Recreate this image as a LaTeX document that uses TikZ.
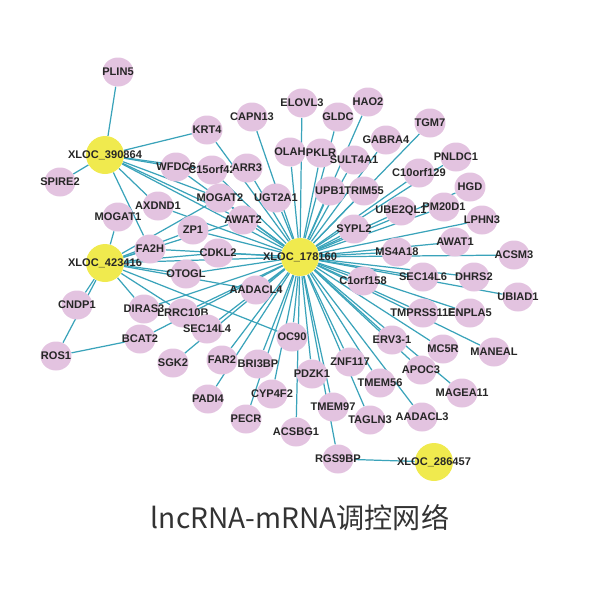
\documentclass[tikz,border=0pt]{standalone}
\usepackage{fontspec}
\setmainfont{Liberation Sans}
\newfontfamily\cjk{Noto Sans CJK SC}
\usetikzlibrary{backgrounds,shapes.geometric}
\definecolor{genepink}{HTML}{E3C3E0}
\definecolor{hubyellow}{HTML}{F0EA4E}
\definecolor{linkteal}{HTML}{3AA3BA}
\tikzset{
  tag/.style={font=\bfseries\fontsize{6.3}{7}\selectfont,text=black!85,inner sep=0pt},
  gene/.style={ellipse,fill=genepink,minimum width=0.62cm,minimum height=0.58cm,inner sep=0pt},
  hub/.style={circle,fill=hubyellow,minimum size=0.76cm,inner sep=0pt},
  link/.style={linkteal,line width=0.7pt}
}
\begin{document}
\begin{tikzpicture}[x=0.02cm,y=-0.02cm]
  \useasboundingbox (0,0) rectangle (600,600);
  % hubs
  \foreach \n/\x/\y/\t in {h390/105/155/XLOC\_390864, h423/105/263/XLOC\_423416,
    h178/300/257/XLOC\_178160, h286/434/462/XLOC\_286457}
    \node[hub,label={[tag]center:\t}] (\n) at (\x,\y) {};
  % genes
  \foreach \n/\x/\y/\t in {
    plin/118/72/PLIN5, spire/60/182/SPIRE2, krt/207/130/KRT4, capn/252/117/CAPN13,
    elovl/302/103/ELOVL3, hao/368/102/HAO2, gldc/338/117/GLDC, tgm/430/123/TGM7,
    wfdc/176/167/WFDC6, cfif/212/170/C15orf42, arr/247/168/ARR3, olah/290/152/OLAH,
    pklr/321/153/PKLR, sult/354/160/SULT4A1, gabra/386/140/GABRA4, pnldc/456/157/PNLDC1,
    cten/419/173/C10orf129, hgd/470/187/HGD, axd/158/206/AXDND1, mogb/220/198/MOGAT2,
    ugt/276/198/UGT2A1, upb/330/191/UPB1, trim/364/191/TRIM55, ube/401/211/UBE2QL1,
    pm/444/207/PM20D1, lphn/482/220/LPHN3, moga/118/217/MOGAT1, zp/193/230/ZP1,
    awatb/243/220/AWAT2, sypl/354/229/SYPL2, awata/455/242/AWAT1, acsm/514/255/ACSM3,
    fah/150/249/FA2H, cdkl/218/253/CDKL2, msa/397/252/MS4A18, otogl/186/274/OTOGL,
    corf/363/281/C1orf158, secsix/423/277/SEC14L6, dhrs/474/277/DHRS2, ubiad/518/297/UBIAD1,
    cndp/77/305/CNDP1, diras/144/309/DIRAS3, lrrc/183/313/LRRC10B, aadf/256/290/AADACL4,
    tmprss/423/313/TMPRSS11E, enpla/470/313/ENPLA5, secfour/207/329/SEC14L4, bcat/140/339/BCAT2,
    ocn/292/337/OC90, erv/392/340/ERV3-1, mcr/443/349/MC5R, maneal/494/352/MANEAL,
    ros/56/356/ROS1, sgk/173/363/SGK2, far/222/360/FAR2, bri/258/364/BRI3BP,
    znf/350/362/ZNF117, pdzk/312/374/PDZK1, apoc/421/370/APOC3, tmemf/380/383/TMEM56,
    magea/462/393/MAGEA11, padi/208/399/PADI4, cyp/272/394/CYP4F2, tmemn/333/407/TMEM97,
    tagln/370/420/TAGLN3, aadt/422/417/AADACL3, pecr/246/419/PECR, acsbg/296/432/ACSBG1,
    rgs/338/459/RGS9BP}
    \node[gene,label={[tag]center:\t}] (\n) at (\x,\y) {};
  % links
  \begin{scope}[on background layer]
    \foreach \n in {krt,capn,elovl,hao,gldc,tgm,cfif,arr,olah,pklr,sult,gabra,pnldc,cten,hgd,
      mogb,ugt,upb,trim,ube,pm,lphn,zp,awatb,sypl,awata,acsm,fah,cdkl,msa,otogl,corf,secsix,
      dhrs,ubiad,lrrc,aadf,tmprss,enpla,secfour,bcat,ocn,erv,mcr,maneal,sgk,far,bri,znf,pdzk,
      apoc,tmemf,magea,padi,cyp,tmemn,tagln,aadt,pecr,acsbg,rgs,wfdc,axd,diras}
      \draw[link] (h178) -- (\n);
    \foreach \n in {plin,spire,krt,wfdc,axd,mogb,awatb,fah,cfif,h178}
      \draw[link] (h390) -- (\n);
    \foreach \n in {moga,cndp,ros,fah,zp,cdkl,otogl,aadf,diras,lrrc,ocn,mogb,awatb,h178}
      \draw[link] (h423) -- (\n);
    \draw[link] (h286) -- (rgs);
    \draw[link] (ros) -- (bcat);
  \end{scope}
  % title
  \node (title) at (300,518) {\cjk\fontsize{16}{18}\selectfont\color{black!80}lncRNA-mRNA调控网络};
\end{tikzpicture}
\end{document}
